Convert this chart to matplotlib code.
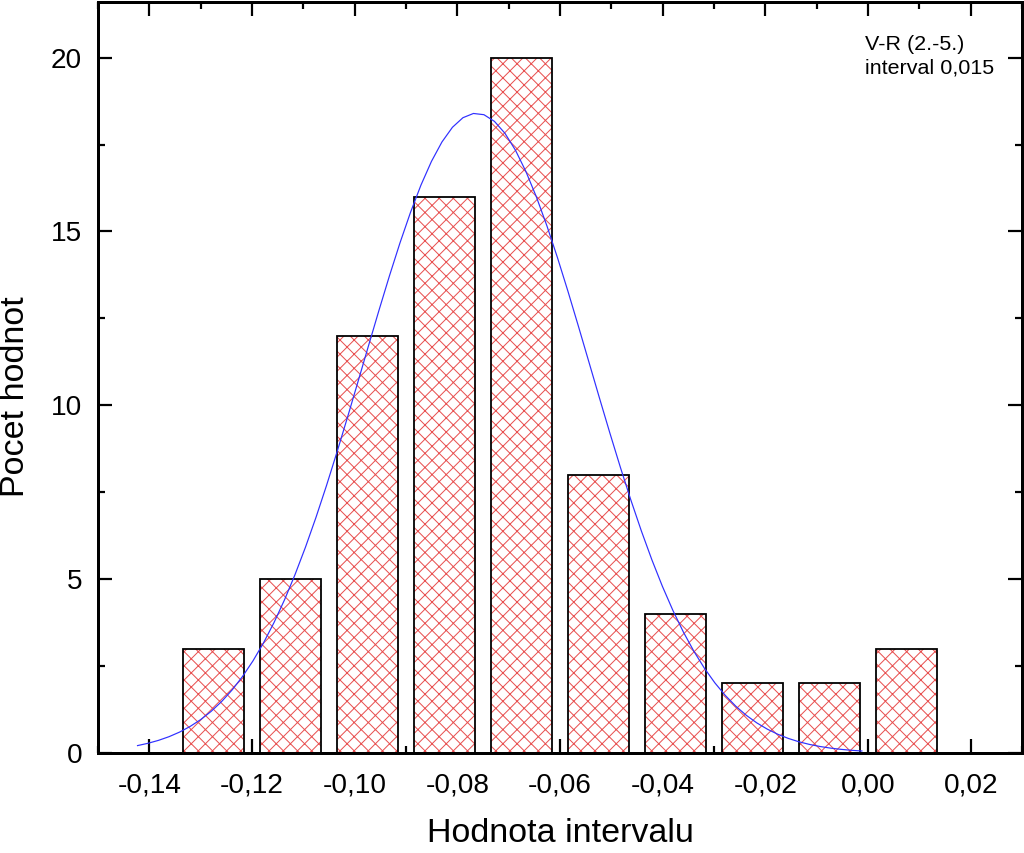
import matplotlib
matplotlib.use("Agg")
import matplotlib.pyplot as plt
import numpy as np
from matplotlib.ticker import MultipleLocator, FuncFormatter

# dpi chosen so the 'xx' hatch gets the ~7 px cell of the reference
DPI = 85
P = 72.0 / DPI  # pixels -> points

plt.rcParams['font.family'] = ['Liberation Sans', 'DejaVu Sans']
plt.rcParams['hatch.linewidth'] = 1.0 * P

# histogram bins (centres) and counts
bin_centers = [-0.1275, -0.1125, -0.0975, -0.0825, -0.0675,
               -0.0525, -0.0375, -0.0225, -0.0075, 0.0075]
counts = [3, 5, 12, 16, 20, 8, 4, 2, 2, 3]
bin_width = 0.015

# gaussian fit
fit_center = -0.0763
fit_sigma = 0.0221
fit_amp = 18.4
fit_start = -0.1423
fit_end = -0.0012

note_lines = ["V-R (2.-5.)", "interval 0,015"]

fig = plt.figure(figsize=(1024 / DPI, 853 / DPI), dpi=DPI)
ax = fig.add_axes([98 / 1024, 100 / 853, 924 / 1024, 751 / 853])

bar_w = bin_width * 0.8
ax.bar(bin_centers, counts, width=bar_w, color='white', edgecolor='#e85050',
       hatch='xx', linewidth=0, zorder=2)
ax.bar(bin_centers, counts, width=bar_w, fill=False, edgecolor='black',
       linewidth=1.8 * P, zorder=3)

xs = np.linspace(fit_start, fit_end, 70)
ys = fit_amp * np.exp(-0.5 * ((xs - fit_center) / fit_sigma) ** 2)
ax.plot(xs, ys, color='#3030ff', linewidth=1.2 * P, zorder=4)

ax.set_xlim(-0.15, 0.03)
ax.set_ylim(0, 21.6)

ax.xaxis.set_major_locator(MultipleLocator(0.02))
ax.xaxis.set_minor_locator(MultipleLocator(0.01))
ax.yaxis.set_major_locator(MultipleLocator(5))
ax.yaxis.set_minor_locator(MultipleLocator(2.5))
ax.xaxis.set_major_formatter(FuncFormatter(lambda v, p: ("%.2f" % v).replace('.', ',').replace('-0,00', '0,00')))
ax.yaxis.set_major_formatter(FuncFormatter(lambda v, p: "%d" % round(v)))

ax.tick_params(which='both', direction='in', top=True, right=True,
               labelsize=28 * P, width=2.2 * P)
ax.tick_params(which='major', length=14 * P)
ax.tick_params(which='minor', length=7 * P)
ax.tick_params(axis='x', which='major', pad=19 * P)
ax.tick_params(axis='y', which='major', pad=16 * P)
for s in ax.spines.values():
    s.set_linewidth(3 * P)

ax.set_xlabel("Hodnota intervalu", fontsize=34 * P, labelpad=20 * P)
fig.text(16 / 1024, 1 - 397 / 853, "Pocet hodnot", fontsize=34 * P,
         rotation=90, ha='center', va='center')

ax.text((865 - 98) / 924, (753 - 35) / 751, "\n".join(note_lines),
        transform=ax.transAxes, fontsize=21.5 * P, va='top', ha='left',
        linespacing=1.3)

fig.savefig("out.png", dpi=DPI)
